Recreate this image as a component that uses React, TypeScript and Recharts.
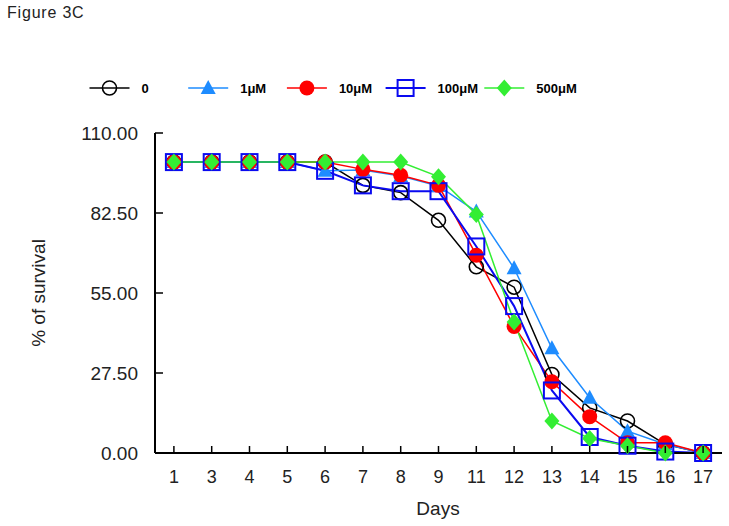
import React from 'react';
import { LineChart, Line, XAxis, YAxis, Legend } from 'recharts';

const days = ['1', '3', '4', '5', '6', '7', '8', '9', '11', '12', '13', '14', '15', '16', '17'];
const control = [100, 100, 100, 100, 100, 92, 89.5, 80, 64, 57, 27, 15.5, 11, 3, 0];
const uM1 = [100, 100, 100, 100, 97, 97.3, 95.2, 91.8, 83, 63.5, 36, 19, 7.5, 3, 0];
const uM10 = [100, 100, 100, 100, 100, 97.5, 95.5, 92, 68, 43.5, 24.5, 12.5, 3.5, 3.5, 0];
const uM100 = [100, 100, 100, 100, 97, 92, 90, 90, 71, 50.5, 21.5, 5.5, 2.5, 0.5, 0];
const uM500 = [100, 100, 100, 100, 100, 100, 100, 95, 82, 45, 11, 5, 2.5, 0, 0];
const yTicks = [0, 27.5, 55, 82.5, 110];

const data = days.map((d, i) => ({
  i,
  day: d,
  s0: control[i],
  s1: uM1[i],
  s10: uM10[i],
  s100: uM100[i],
  s500: uM500[i],
}));

const series = [
  { key: 's0', name: '0', color: '#000000', shape: 'circleOpen', width: 1.5 },
  { key: 's1', name: '1μM', color: '#1E8CFF', shape: 'triangle', width: 1.5 },
  { key: 's10', name: '10μM', color: '#FF0000', shape: 'circle', width: 1.5 },
  { key: 's100', name: '100μM', color: '#0A0AF0', shape: 'square', width: 2 },
  { key: 's500', name: '500μM', color: '#33EE33', shape: 'diamond', width: 1.5 },
];

const FONT = 'Arial, "Liberation Sans", sans-serif';

function Marker({ shape, color, cx, cy }: { shape: string; color: string; cx: number; cy: number }) {
  if (cx == null || cy == null) return null;
  switch (shape) {
    case 'circleOpen':
      return <circle cx={cx} cy={cy} r={7} fill="none" stroke={color} strokeWidth={1.6} />;
    case 'triangle':
      return (
        <polygon
          points={`${cx},${cy - 8} ${cx - 7.5},${cy + 6} ${cx + 7.5},${cy + 6}`}
          fill={color}
        />
      );
    case 'circle':
      return <circle cx={cx} cy={cy} r={7.5} fill={color} />;
    case 'square':
      return <rect x={cx - 8} y={cy - 8} width={16} height={16} fill="none" stroke={color} strokeWidth={2} />;
    case 'diamond':
      return (
        <polygon
          points={`${cx},${cy - 8.5} ${cx + 7.5},${cy} ${cx},${cy + 8.5} ${cx - 7.5},${cy}`}
          fill={color}
        />
      );
    default:
      return null;
  }
}

const YTick = (props: any) => {
  const { x, y, payload } = props;
  return (
    <g>
      <line x1={x} x2={x + 8} y1={y} y2={y} stroke="#000" strokeWidth={1.5} />
      <text x={x - 17} y={y} dy="0.36em" textAnchor="end" fontFamily={FONT} fontSize={19} fill="#222">
        {Number(payload.value).toFixed(2)}
      </text>
    </g>
  );
};

const XTick = (props: any) => {
  const { x, y, payload } = props;
  return (
    <g>
      <line x1={x} x2={x} y1={y} y2={y - 7} stroke="#000" strokeWidth={1.5} />
      <text x={x} y={y + 30} textAnchor="middle" fontFamily={FONT} fontSize={18} fill="#222">
        {days[payload.value]}
      </text>
    </g>
  );
};

const renderLegend = () => (
  <svg width={729} height={30} style={{ display: 'block' }}>
    {series.map((s, idx) => {
      const x0 = 89.5 + idx * 98.7;
      const cy = 13;
      return (
        <g key={s.key}>
          <line x1={x0} x2={x0 + 40} y1={cy} y2={cy} stroke={s.color} strokeWidth={s.width} />
          <Marker shape={s.shape} color={s.color} cx={x0 + 20} cy={cy} />
          <text x={x0 + 52} y={cy} dy="0.36em" fontFamily={FONT} fontSize={13} fontWeight="bold" fill="#000">
            {s.name}
          </text>
        </g>
      );
    })}
  </svg>
);

export default function App() {
  return (
    <div style={{ position: 'absolute', left: 0, top: 0, width: 729, height: 526, background: '#fff' }}>
      <LineChart
        width={729}
        height={526}
        data={data}
        margin={{ top: 133, right: 7, bottom: 13, left: 55 }}
      >
        <XAxis
          type="number"
          dataKey="i"
          domain={[-0.5, 14.5]}
          ticks={data.map((d) => d.i)}
          interval={0}
          height={60}
          tickSize={0}
          tickMargin={0}
          tickLine={false}
          axisLine={{ stroke: '#000', strokeWidth: 2 }}
          tick={<XTick />}
        />
        <YAxis
          type="number"
          domain={[0, 110]}
          ticks={yTicks}
          interval={0}
          width={100}
          tickSize={0}
          tickMargin={0}
          tickLine={false}
          axisLine={{ stroke: '#000', strokeWidth: 2 }}
          tick={<YTick />}
        />
        <Legend
          layout="horizontal"
          verticalAlign="middle"
          align="center"
          wrapperStyle={{ top: 75, left: 0, width: 729 }}
          content={renderLegend}
        />
        {series.map((s) => (
          <Line
            key={s.key}
            type="linear"
            dataKey={s.key}
            name={s.name}
            stroke={s.color}
            strokeWidth={s.width}
            isAnimationActive={false}
            activeDot={false}
            dot={(p: any) => <Marker key={`${s.key}-${p.index}`} shape={s.shape} color={s.color} cx={p.cx} cy={p.cy} />}
          />
        ))}
      </LineChart>
      <svg
        width={729}
        height={526}
        style={{ position: 'absolute', left: 0, top: 0, pointerEvents: 'none' }}
      >
        <text x={7} y={18} fontFamily={FONT} fontSize={16} letterSpacing={0.8} fill="#222">
          Figure 3C
        </text>
        <text
          x={38}
          y={293}
          dy="0.36em"
          textAnchor="middle"
          transform="rotate(-90, 38, 293)"
          fontFamily={FONT}
          fontSize={19}
          fill="#222"
        >
          % of survival
        </text>
        <text x={438} y={508} dy="0.36em" textAnchor="middle" fontFamily={FONT} fontSize={19} fill="#222">
          Days
        </text>
      </svg>
    </div>
  );
}
